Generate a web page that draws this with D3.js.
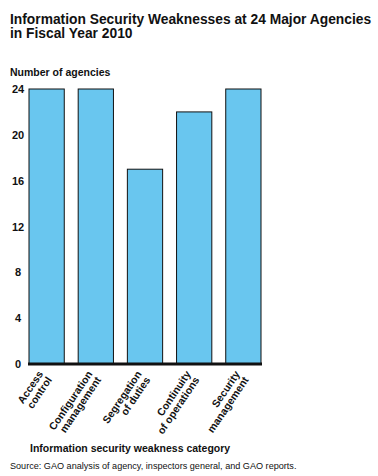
<!DOCTYPE html>
<html>
<head>
<meta charset="utf-8">
<title>Information Security Weaknesses</title>
<script src="https://cdnjs.cloudflare.com/ajax/libs/d3/7.8.5/d3.min.js"></script>
<style>
  body { margin: 0; background: #fff; }
  text { font-family: "Liberation Sans", Arial, sans-serif; fill: #111; }
</style>
</head>
<body>
<script>
// data
var categories = [
    ["Access", "control"],
    ["Configuration", "management"],
    ["Segregation", "of duties"],
    ["Continuity", "of operations"],
    ["Security", "management"]
];
var agencies = [24, 24, 17, 22, 24];
var yTicks = [0, 4, 8, 12, 16, 20, 24];

var W = 378, H = 476;
var plot = {left: 29, right: 261, top: 89, bottom: 364};

var svg = d3.select("body").append("svg")
    .attr("width", W)
    .attr("height", H);

var keys = categories.map(function(c) { return c.join(" "); });

var x = d3.scaleBand().domain(keys).range([plot.left, plot.right])
    .paddingInner(0.283).paddingOuter(0);
var y = d3.scaleLinear().domain([0, 24]).range([plot.bottom, plot.top]);

// title
var title = svg.append("text")
    .attr("x", 10).attr("y", 24)
    .style("font-size", "13.8px").style("font-weight", "bold");
title.append("tspan").attr("x", 10).text("Information Security Weaknesses at 24 Major Agencies");
title.append("tspan").attr("x", 10).attr("dy", 14).text("in Fiscal Year 2010");

svg.append("text")
    .attr("x", 10).attr("y", 76)
    .style("font-size", "10.5px").style("font-weight", "bold")
    .text("Number of agencies");

// y tick labels, no axis line
svg.selectAll(".ytick").data(yTicks).enter().append("text")
    .attr("class", "ytick")
    .attr("x", 18)
    .attr("y", function(d) { return y(d) + 4; })
    .attr("text-anchor", "middle")
    .style("font-size", "11px").style("font-weight", "bold")
    .text(function(d) { return d; });

// bars
svg.selectAll("rect.bar").data(agencies).enter().append("rect")
    .attr("class", "bar")
    .attr("x", function(d, i) { return x(keys[i]); })
    .attr("y", function(d) { return y(d); })
    .attr("width", x.bandwidth())
    .attr("height", function(d) { return y(0) - y(d); })
    .attr("fill", "#69c6ef")
    .attr("stroke", "#111")
    .attr("stroke-width", 1);

// baseline
svg.append("line")
    .attr("x1", plot.left - 1).attr("x2", plot.right + 1)
    .attr("y1", y(0)).attr("y2", y(0))
    .attr("stroke", "#111").attr("stroke-width", 3);

// rotated category labels
var lab = svg.selectAll(".xlab").data(categories).enter().append("text")
    .attr("class", "xlab")
    .attr("transform", function(d, i) {
        return "translate(" + (x(keys[i]) + x.bandwidth() / 2 - 3) + "," + 374 + ") rotate(-56)";
    })
    .attr("text-anchor", "end")
    .style("font-size", "10.5px").style("font-weight", "bold");
lab.append("tspan").attr("x", 0).text(function(d) { return d[0]; });
lab.append("tspan").attr("x", 0).attr("dy", 10.5).text(function(d) { return d[1]; });

svg.append("text")
    .attr("x", 30).attr("y", 452)
    .style("font-size", "10.5px").style("font-weight", "bold")
    .text("Information security weakness category");

svg.append("text")
    .attr("x", 10).attr("y", 469)
    .style("font-size", "9.1px")
    .text("Source: GAO analysis of agency, inspectors general, and GAO reports.");
</script>
</body>
</html>
